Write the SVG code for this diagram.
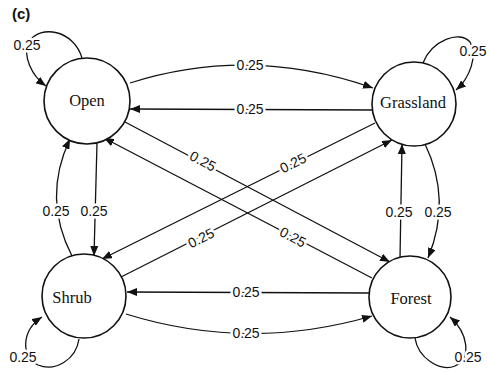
<svg xmlns="http://www.w3.org/2000/svg" width="489" height="372" viewBox="0 0 489 372">
  <style>
    .edge { fill: none; stroke: #111; stroke-width: 1.3; marker-end: url(#ah); }
    .node circle { fill: #fff; stroke: #111; stroke-width: 1.6; }
    .node text { font-family: "Liberation Serif", "DejaVu Serif", serif; font-size: 16.5px; fill: #111; text-anchor: middle; dominant-baseline: central; }
    .lbl { font-family: "Liberation Sans", Arial, sans-serif; font-size: 14px; fill: #111; text-anchor: middle; dominant-baseline: central; stroke: #fff; stroke-width: 5px; stroke-linejoin: round; paint-order: stroke fill; }
    .title { font-family: "Liberation Sans", Arial, sans-serif; font-size: 15px; font-weight: bold; fill: #111; }
  </style>
  <defs>
    <marker id="ah" viewBox="0 0 10 8" refX="10" refY="4" markerWidth="10" markerHeight="8" markerUnits="userSpaceOnUse" orient="auto">
      <path d="M0,0 L10,4 L0,8 z" fill="#111"/>
    </marker>
  </defs>
  <rect width="489" height="372" fill="#fff"/>
  <text class="title" x="12" y="19">(c)</text>

  <g id="connectors">
    <!-- self loops -->
    <path class="edge" d="M82,58 C74,30 40,24 29,42 C22,56 32,76 46,86"/>
    <path class="edge" d="M423,63 C432,40 460,30 470,42 C478,55 470,78 456,90"/>
    <path class="edge" d="M79,339 C76,360 55,372 38,365 C20,356 22,330 42,317"/>
    <path class="edge" d="M415,338 C418,358 440,372 455,366 C472,358 468,333 450,317"/>
    <!-- top pair -->
    <path class="edge" d="M130,83 Q250,45 373,88"/>
    <path class="edge" d="M372,110 L130,109"/>
    <!-- bottom pair -->
    <path class="edge" d="M369,293 L127,292"/>
    <path class="edge" d="M126,314 Q248,352 372,316"/>
    <!-- left pair -->
    <path class="edge" d="M97,143 L94,256"/>
    <path class="edge" d="M72,256 Q42,198 70,139"/>
    <!-- right pair -->
    <path class="edge" d="M400,258 L402,144"/>
    <path class="edge" d="M425,144 Q452,200 428,258"/>
    <!-- diagonals -->
    <path class="edge" d="M125,122 L390,262"/>
    <path class="edge" d="M372,278 L104,138"/>
    <path class="edge" d="M375,123 L102,259"/>
    <path class="edge" d="M121,277 L392,140"/>

    <!-- probabilities -->
    <text class="lbl" x="27" y="45">0.25</text>
    <text class="lbl" x="473" y="51">0.25</text>
    <text class="lbl" x="23" y="357">0.25</text>
    <text class="lbl" x="468" y="357">0.25</text>
    <text class="lbl" x="250" y="65">0.25</text>
    <text class="lbl" x="250" y="109">0.25</text>
    <text class="lbl" x="246" y="292">0.25</text>
    <text class="lbl" x="246" y="333">0.25</text>
    <text class="lbl" x="56" y="211">0.25</text>
    <text class="lbl" x="94" y="211">0.25</text>
    <text class="lbl" x="399" y="212">0.25</text>
    <text class="lbl" x="438" y="212">0.25</text>
    <text class="lbl" x="203" y="161" transform="rotate(27.8 203 161)">0.25</text>
    <text class="lbl" x="293" y="237" transform="rotate(27.8 293 237)">0.25</text>
    <text class="lbl" x="293" y="163" transform="rotate(-26.7 293 163)">0.25</text>
    <text class="lbl" x="201" y="238" transform="rotate(-26.7 201 238)">0.25</text>
  </g>

  <g id="open" class="node">
    <circle cx="87" cy="101" r="43"/>
    <text x="87" y="100">Open</text>
  </g>
  <g id="grassland" class="node">
    <circle cx="414" cy="104" r="42"/>
    <text x="413" y="102">Grassland</text>
  </g>
  <g id="shrub" class="node">
    <circle cx="84" cy="296" r="42"/>
    <text x="72" y="297">Shrub</text>
  </g>
  <g id="forest" class="node">
    <circle cx="410" cy="297" r="41"/>
    <text x="411" y="298">Forest</text>
  </g>
</svg>
